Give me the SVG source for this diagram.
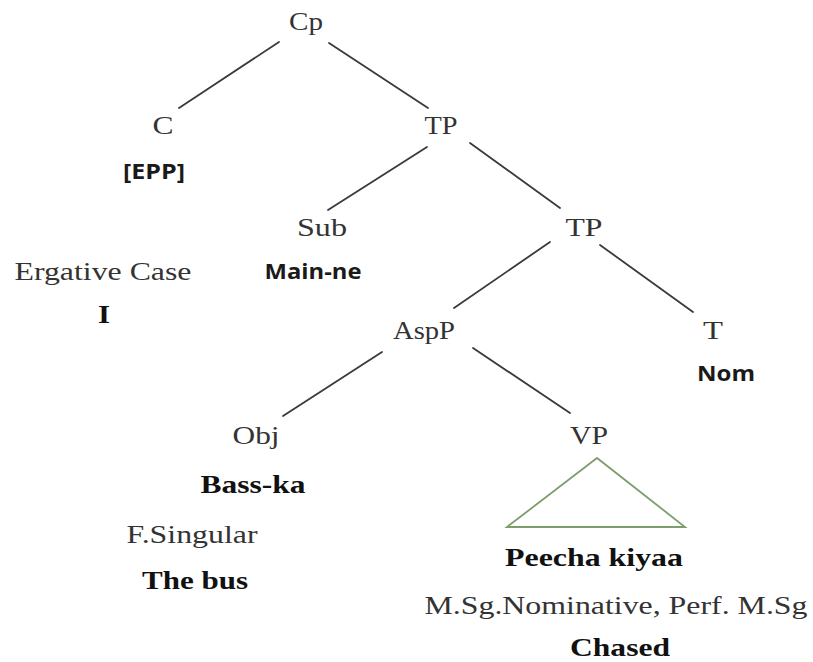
<svg xmlns="http://www.w3.org/2000/svg" width="813" height="662" viewBox="0 0 813 662">
  <style>
    .lbl { font-family: "Liberation Serif", "Times New Roman", serif; font-size: 26px; fill: #333; text-anchor: middle; }
    .gl  { font-family: "Liberation Serif", "Times New Roman", serif; font-size: 26px; font-weight: bold; fill: #111; text-anchor: middle; }
    .feat { font-family: "Open Sans", "Liberation Sans", sans-serif; font-size: 21px; font-weight: bold; fill: #1a1a1a; text-anchor: middle; }
    .edge { stroke: #3a3a3a; stroke-width: 1.8; fill: none; stroke-linecap: round; }
    .roof { stroke: #7d9e6c; stroke-width: 1.8; fill: none; stroke-linejoin: miter; }
  </style>
  <rect width="813" height="662" fill="#ffffff"/>

  <!-- tree branches -->
  <g id="connectors">
    <line class="edge" x1="279" y1="42" x2="179" y2="108"/>
    <line class="edge" x1="329" y1="43" x2="428" y2="108"/>
    <line class="edge" x1="427" y1="147" x2="328" y2="210"/>
    <line class="edge" x1="470" y1="143" x2="560" y2="208"/>
    <line class="edge" x1="550" y1="242" x2="454" y2="308"/>
    <line class="edge" x1="600" y1="245" x2="693" y2="312"/>
    <line class="edge" x1="382" y1="352" x2="283" y2="416"/>
    <line class="edge" x1="473" y1="348" x2="570" y2="413"/>
  </g>

  <g id="node-cp">
    <text class="lbl" x="306" y="30" textLength="34" lengthAdjust="spacingAndGlyphs">Cp</text>
  </g>

  <g id="node-c">
    <text class="lbl" x="163" y="134" textLength="21" lengthAdjust="spacingAndGlyphs">C</text>
    <text class="feat" x="154" y="179" textLength="62" lengthAdjust="spacingAndGlyphs">[EPP]</text>
  </g>

  <g id="node-tp1">
    <text class="lbl" x="441" y="134" textLength="33" lengthAdjust="spacingAndGlyphs">TP</text>
  </g>

  <g id="node-sub">
    <text class="lbl" x="322" y="236" textLength="50" lengthAdjust="spacingAndGlyphs">Sub</text>
    <text class="feat" x="313" y="279" textLength="97" lengthAdjust="spacingAndGlyphs">Main-ne</text>
  </g>

  <g id="ergative">
    <text class="lbl" x="103" y="280" textLength="177" lengthAdjust="spacingAndGlyphs">Ergative Case</text>
    <text class="gl" x="104" y="323" textLength="12" lengthAdjust="spacingAndGlyphs">I</text>
  </g>

  <g id="node-tp2">
    <text class="lbl" x="584" y="236" textLength="37" lengthAdjust="spacingAndGlyphs">TP</text>
  </g>

  <g id="node-aspp">
    <text class="lbl" x="424" y="339" textLength="62" lengthAdjust="spacingAndGlyphs">AspP</text>
  </g>

  <g id="node-t">
    <text class="lbl" x="713" y="339" textLength="20" lengthAdjust="spacingAndGlyphs">T</text>
    <text class="feat" x="726" y="381" textLength="58" lengthAdjust="spacingAndGlyphs">Nom</text>
  </g>

  <g id="node-obj">
    <text class="lbl" x="256" y="444" textLength="47" lengthAdjust="spacingAndGlyphs">Obj</text>
    <text class="gl" x="253" y="493" textLength="105" lengthAdjust="spacingAndGlyphs">Bass-ka</text>
    <text class="lbl" x="192" y="543" textLength="131" lengthAdjust="spacingAndGlyphs">F.Singular</text>
    <text class="gl" x="195" y="589" textLength="106" lengthAdjust="spacingAndGlyphs">The bus</text>
  </g>

  <g id="node-vp">
    <text class="lbl" x="589" y="444" textLength="38" lengthAdjust="spacingAndGlyphs">VP</text>
    <polygon class="roof" points="597,458 507,527 685,527"/>
    <text class="gl" x="594" y="566" textLength="178" lengthAdjust="spacingAndGlyphs">Peecha kiyaa</text>
    <text class="lbl" x="616" y="614" textLength="383" lengthAdjust="spacingAndGlyphs">M.Sg.Nominative, Perf. M.Sg</text>
    <text class="gl" x="620" y="656" textLength="100" lengthAdjust="spacingAndGlyphs">Chased</text>
  </g>
</svg>
